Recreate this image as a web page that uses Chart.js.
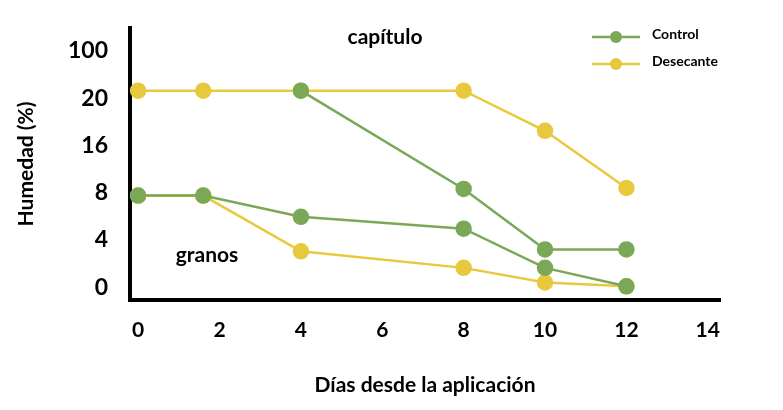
<!DOCTYPE html>
<html>
<head>
<meta charset="utf-8">
<script src="https://cdn.jsdelivr.net/npm/chart.js@4"></script>
<style>
  html, body { margin: 0; padding: 0; background: #fff; }
  #wrap { width: 783px; height: 410px; }
</style>
</head>
<body>
<div id="wrap"><canvas id="chart" width="783" height="410"></canvas></div>
<script>
// tick labels are placed at equal steps (0..5) on the y axis
const yTickLabels = ['0', '4', '8', '16', '20', '100'];
const xTickLabels = [0, 2, 4, 6, 8, 10, 12, 14];

// values in tick-step units
const controlCapitulo = [{ x: 4, y: 4.16 }, { x: 8, y: 2.08 }, { x: 10, y: 0.80 }, { x: 12, y: 0.80 }];
const desecanteCapitulo = [{ x: 0, y: 4.16 }, { x: 1.6, y: 4.16 }, { x: 4, y: 4.16 }, { x: 8, y: 4.16 }, { x: 10, y: 3.31 }, { x: 12, y: 2.10 }];
const controlGranos = [{ x: 0, y: 1.94 }, { x: 1.6, y: 1.94 }, { x: 4, y: 1.49 }, { x: 8, y: 1.24 }, { x: 10, y: 0.41 }, { x: 12, y: 0.02 }];
const desecanteGranos = [{ x: 0, y: 1.94 }, { x: 1.6, y: 1.94 }, { x: 4, y: 0.76 }, { x: 8, y: 0.41 }, { x: 10, y: 0.10 }, { x: 12, y: 0.02 }];

const GREEN = '#7aa857';
const YELLOW = '#e8c93e';
const FONT = 'Lato, sans-serif';

function series(label, data, color) {
    return {
        label: label, data: data, borderColor: color, backgroundColor: color,
        borderWidth: 2.5, pointRadius: 7, pointHoverRadius: 7, tension: 0
    };
}

const annotations = {
    id: 'annotations',
    afterDraw(chart) {
        const c = chart.ctx;
        c.save();
        c.fillStyle = '#000';
        c.font = 'bold 21px ' + FONT;
        c.textAlign = 'center';
        c.textBaseline = 'middle';
        c.fillText('capítulo', 385, 37);
        c.fillText('granos', 207, 255);
        // legend
        [['Control', GREEN, 37], ['Desecante', YELLOW, 64]].forEach(([txt, col, y]) => {
            c.strokeStyle = col; c.fillStyle = col; c.lineWidth = 2.5;
            c.beginPath(); c.moveTo(592, y); c.lineTo(640, y); c.stroke();
            c.beginPath(); c.arc(616, y, 6, 0, Math.PI * 2); c.fill();
            c.fillStyle = '#000';
            c.font = 'bold 14px ' + FONT;
            c.textAlign = 'left';
            c.fillText(txt, 652, y - 3);
        });
        c.restore();
    }
};

new Chart(document.getElementById('chart'), {
    type: 'line',
    data: {
        datasets: [
            series('Control', controlCapitulo, GREEN),
            series('Control granos', controlGranos, GREEN),
            series('Desecante', desecanteCapitulo, YELLOW),
            series('Desecante granos', desecanteGranos, YELLOW)
        ]
    },
    options: {
        responsive: false, animation: false,
        layout: { padding: { left: 10, right: 63, top: 18, bottom: 8 } },
        plugins: { tooltip: { enabled: false }, legend: { display: false } },
        scales: {
            x: {
                type: 'linear', min: -0.2, max: 14.3,
                border: { color: '#000', width: 4 },
                grid: { display: false },
                afterBuildTicks: axis => { axis.ticks = xTickLabels.map(v => ({ value: v })); },
                afterFit: axis => { axis.height = 102; },
                ticks: { color: '#000', font: { family: FONT, size: 21, weight: 'bold' }, padding: 10 },
                title: { display: true, text: 'Días desde la aplicación', color: '#000', font: { family: FONT, size: 21, weight: 'bold' }, padding: { top: 14 } }
            },
            y: {
                type: 'linear', min: -0.27, max: 5.49,
                border: { color: '#000', width: 4 },
                grid: { display: false },
                afterBuildTicks: axis => { axis.ticks = yTickLabels.map((t, i) => ({ value: i })); },
                afterFit: axis => { axis.width = 120; },
                ticks: { color: '#000', font: { family: FONT, size: 23, weight: 'bold' }, padding: 14, callback: v => yTickLabels[v] },
                title: { display: true, text: 'Humedad (%)', color: '#000', font: { family: FONT, size: 21, weight: 'bold' }, padding: { bottom: 2 } }
            }
        }
    },
    plugins: [annotations]
});
</script>
</body>
</html>
